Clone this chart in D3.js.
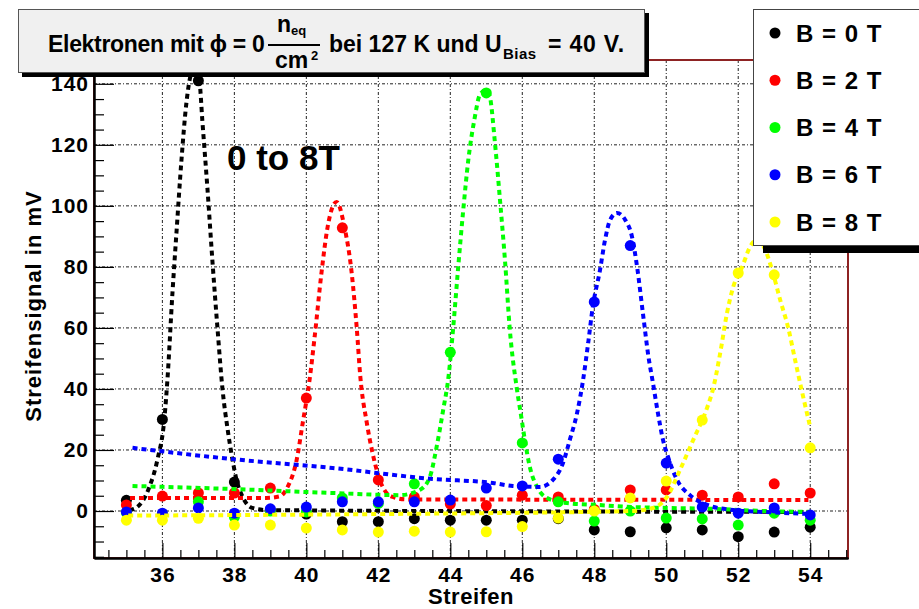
<!DOCTYPE html>
<html>
<head>
<meta charset="utf-8">
<script src="https://cdn.jsdelivr.net/npm/d3@7"></script>
<style>
  body { margin: 0; background: #fff; }
  svg { display: block; font-family: "Liberation Sans", Arial, sans-serif; font-weight: bold; }
</style>
</head>
<body>
<script>
// strip numbers and measured signals (mV) per magnetic field
const strips = [35, 36, 37, 38, 39, 40, 41, 42, 43, 44, 45, 46, 47, 48, 49, 50, 51, 52, 53, 54];
const signalB0 = [3.5, 30, 141, 9.5, 0.3, -1, -3.5, -3.5, -2.5, -3, -3, -3, -2.5, -6.2, -6.8, -5.5, -6.2, -8.4, -6.9, -5.3];
const signalB2 = [2, 4.9, 5.9, 5.9, 7.5, 37, 92.8, 10.2, 4.6, 2.3, 1.8, 5.2, 4.6, 0.5, 6.9, 6.9, 5.2, 4.6, 8.9, 5.9];
const signalB4 = [-0.5, -1, 3, -2, 0, -0.3, 4.3, 2.5, 8.9, 52, 137, 22.3, 3, -3.3, 0, -2.3, -2.6, -4.6, -0.7, -3];
const signalB6 = [-0.3, -0.7, 1, -0.7, 0.7, 1.3, 3, 3, 3, 3.6, 7.5, 8.2, 17, 68.5, 87, 15.7, 1.3, -0.7, 1, -1.3];
const signalB8 = [-3, -3, -2.4, -4.6, -4.6, -5.6, -6.2, -6.9, -6.6, -6.9, -6.8, -5.1, -2.3, 0, 4.3, 9.8, 29.8, 78, 77.4, 20.7];

// fitted curves: [strip, mV]
const fitB0 = [[35.08, 0.3], [35.3, 1.3], [35.64, 7.9], [35.86, 16.7], [36.06, 30.8], [36.14, 43], [36.28, 71.5],
  [36.39, 91], [36.53, 115], [36.67, 134], [36.81, 143.6], [36.92, 145], [37.03, 141], [37.11, 128], [37.25, 106],
  [37.39, 82], [37.53, 60], [37.67, 40], [37.81, 27], [37.95, 16.7], [38.06, 10.2], [38.23, 4.6], [38.5, 1],
  [38.89, 0.3], [46, -0.1], [54.05, -0.3]];
const fitB2 = [[35.1, 4.3], [38.89, 4.3], [39.26, 4.8], [39.48, 7.9], [39.73, 16.7], [39.9, 28.9], [40.09, 43],
  [40.23, 57], [40.42, 78], [40.59, 93], [40.73, 99.7], [40.84, 101.3], [41.06, 93], [41.26, 78], [41.4, 60],
  [41.5, 44], [41.68, 28.9], [41.84, 19], [42.12, 7.9], [42.4, 4.6], [42.79, 3.8], [48, 3.7], [53.95, 3.6]];
const fitB4 = [[35.17, 8.2], [37.95, 7.2], [40.73, 5.9], [42.59, 5.2], [43.15, 6.9], [43.43, 11.1], [43.62, 21],
  [43.8, 33], [43.95, 44], [44.08, 60], [44.22, 80], [44.36, 98.7], [44.5, 115], [44.68, 129], [44.82, 136.4],
  [45.0, 138], [45.1, 135.7], [45.24, 120.7], [45.38, 102], [45.52, 82], [45.65, 60], [45.85, 40], [45.97, 31],
  [46.07, 23.3], [46.21, 14.4], [46.41, 7.9], [46.68, 4.3], [47.24, 2.6], [48.08, 2], [49.08, 1.3], [50.02, 1],
  [51.3, 0.7], [52.69, 0], [54.05, -0.3]];
const fitB6 = [[35.17, 20.7], [37.95, 17], [40.73, 14.1], [43.51, 10.5], [45.18, 9.2], [45.74, 8.2], [46.49, 7.9],
  [46.85, 10.2], [47.13, 15.7], [47.32, 23.3], [47.52, 32], [47.69, 43], [47.83, 55], [47.96, 67], [48.16, 79],
  [48.3, 88.9], [48.44, 95.4], [48.63, 97.7], [48.86, 95.4], [49.05, 89.8], [49.19, 80], [49.36, 64], [49.5, 51],
  [49.63, 42], [49.77, 32], [49.91, 23.3], [50.05, 17.7], [50.3, 10.2], [50.66, 5.2], [51.14, 2], [51.86, 0.3],
  [52.69, -0.3], [54.05, -1]];
const fitB8 = [[35.05, -1.5], [42, -1], [49, 0], [49.63, 1], [50.02, 4.6], [50.38, 13.4], [50.75, 23.3],
  [51.14, 34], [51.3, 40], [51.5, 51.8], [51.69, 65], [51.86, 73.4], [52.11, 80], [52.33, 86.6], [52.52, 89],
  [52.75, 85.6], [52.94, 79], [53.17, 69], [53.39, 60], [53.58, 49.5], [53.78, 38.7], [54.0, 27.5]];

const legendLabels = ["B = 0 T", "B = 2 T", "B = 4 T", "B = 6 T", "B = 8 T"];
const colors = ["#000000", "#ff0000", "#00ff00", "#0000ff", "#ffff00"];
const xMajor = [36, 38, 40, 42, 44, 46, 48, 50, 52, 54];
const yMajor = [0, 20, 40, 60, 80, 100, 120, 140];

const series = [signalB0, signalB2, signalB4, signalB6, signalB8];
const fits = [fitB0, fitB2, fitB4, fitB6, fitB8];

const width = 919, height = 609;
const frameL = 94, frameR = 848, frameT = 60, frameB = 558;

const svg = d3.select("body").append("svg")
  .attr("width", width)
  .attr("height", height);

const x = d3.scaleLinear().domain([34.1, 55.05]).range([frameL, frameR]);
const y = d3.scaleLinear().domain([-15.4, 147.8]).range([frameB, frameT]);

svg.append("defs").append("clipPath").attr("id", "frame")
  .append("rect")
  .attr("x", frameL).attr("y", frameT)
  .attr("width", frameR - frameL).attr("height", frameB - frameT);

// grid
const grid = svg.append("g").attr("stroke", "#222").attr("stroke-width", 1)
  .attr("stroke-dasharray", "3,2,1,2");
grid.selectAll(".gx").data(xMajor).enter().append("line")
  .attr("x1", d => x(d)).attr("x2", d => x(d))
  .attr("y1", frameT).attr("y2", frameB);
grid.selectAll(".gy").data(yMajor).enter().append("line")
  .attr("x1", frameL).attr("x2", frameR)
  .attr("y1", d => y(d)).attr("y2", d => y(d));

// curves and points
const plot = svg.append("g").attr("clip-path", "url(#frame)");
const line = d3.line()
  .x(d => x(d[0]))
  .y(d => y(d[1]))
  .curve(d3.curveMonotoneX);

series.forEach((vals, i) => {
  plot.append("path")
    .datum(fits[i])
    .attr("d", line)
    .attr("fill", "none")
    .attr("stroke", colors[i])
    .attr("stroke-width", 4)
    .attr("stroke-dasharray", "5,4");

  plot.selectAll(".pt" + i)
    .data(vals)
    .enter()
    .append("circle")
    .attr("class", "pt" + i)
    .attr("cx", (d, j) => x(strips[j]))
    .attr("cy", d => y(d))
    .attr("r", 5.5)
    .attr("fill", colors[i]);
});

// frame
svg.append("rect")
  .attr("x", frameL).attr("y", frameT)
  .attr("width", frameR - frameL).attr("height", frameB - frameT)
  .attr("fill", "none")
  .attr("stroke", "#8e2323")
  .attr("stroke-width", 2);

// axes
svg.append("g").attr("transform", `translate(${frameL},0)`)
  .call(d3.axisLeft(y).tickValues(yMajor).tickSizeInner(-20).tickSizeOuter(0).tickPadding(5));
svg.append("g").attr("transform", `translate(${frameL},0)`)
  .call(d3.axisLeft(y).tickValues(d3.range(-15, 146, 5).filter(v => v % 20 !== 0))
    .tickSizeInner(-10).tickSizeOuter(0).tickFormat(""));

svg.append("g").attr("transform", `translate(0,${frameB})`)
  .call(d3.axisBottom(x).tickValues(xMajor).tickSizeInner(-15).tickSizeOuter(0).tickPadding(9));
svg.append("g").attr("transform", `translate(0,${frameB})`)
  .call(d3.axisBottom(x).tickValues(d3.range(34.5, 55.01, 0.5).filter(v => v % 2 !== 0))
    .tickSizeInner(-8).tickSizeOuter(0).tickFormat(""));

svg.selectAll(".domain").attr("stroke", "#000").attr("stroke-width", 2);
svg.selectAll(".tick line").attr("stroke", "#000").attr("stroke-width", 1.2);
svg.selectAll(".tick text")
  .attr("font-family", "Liberation Sans, Arial, sans-serif")
  .attr("font-weight", "bold")
  .attr("font-size", 21)
  .attr("letter-spacing", 1)
  .attr("fill", "#000");

// axis titles
svg.append("text")
  .attr("x", 514).attr("y", 604)
  .attr("text-anchor", "end")
  .attr("font-size", 22)
  .attr("letter-spacing", 0.5)
  .text("Streifen");

svg.append("text")
  .attr("transform", "translate(41,306) rotate(-90)")
  .attr("text-anchor", "middle")
  .attr("font-size", 22)
  .attr("letter-spacing", 1)
  .text("Streifensignal in mV");

// annotation
svg.append("text")
  .attr("x", 227).attr("y", 170)
  .attr("font-size", 35)
  .text("0 to 8T");

// title box
svg.append("rect")
  .attr("x", 22).attr("y", 13).attr("width", 627).attr("height", 64)
  .attr("fill", "#000");
svg.append("rect")
  .attr("x", 18.5).attr("y", 9.5).attr("width", 626).attr("height", 63)
  .attr("fill", "#f0f0f0")
  .attr("stroke", "#555")
  .attr("stroke-width", 1);

const title = svg.append("g").attr("font-size", 23).attr("fill", "#000");
title.append("text").attr("x", 48).attr("y", 52).attr("letter-spacing", -0.3).text("Elektronen mit \u03d5 = 0");
title.append("text").attr("x", 277).attr("y", 32).text("n");
title.append("text").attr("x", 291).attr("y", 35).attr("font-size", 13).text("eq");
title.append("line")
  .attr("x1", 268).attr("x2", 320).attr("y1", 45).attr("y2", 45)
  .attr("stroke", "#000").attr("stroke-width", 2);
title.append("text").attr("x", 275).attr("y", 68).text("cm");
title.append("text").attr("x", 311).attr("y", 60).attr("font-size", 13).text("2");
title.append("text").attr("x", 329).attr("y", 52).text("bei 127 K und U");
title.append("text").attr("x", 503).attr("y", 59).attr("font-size", 15).attr("letter-spacing", 0.5).text("Bias");
title.append("text").attr("x", 548).attr("y", 52).attr("letter-spacing", 0.8).text("= 40 V.");

// legend
svg.append("rect")
  .attr("x", 763).attr("y", 245).attr("width", 170).attr("height", 8)
  .attr("fill", "#000");
svg.append("rect")
  .attr("x", 753.5).attr("y", 9.5).attr("width", 200).attr("height", 236)
  .attr("fill", "#fff")
  .attr("stroke", "#444")
  .attr("stroke-width", 1);

const legendY = d3.scalePoint().domain(legendLabels).range([33, 222]);
const legend = svg.append("g");
legend.selectAll("circle")
  .data(legendLabels)
  .enter()
  .append("circle")
  .attr("cx", 775)
  .attr("cy", d => legendY(d))
  .attr("r", 5.5)
  .attr("fill", (d, i) => colors[i]);
legend.selectAll("text")
  .data(legendLabels)
  .enter()
  .append("text")
  .attr("x", 796)
  .attr("y", d => legendY(d) + 8.5)
  .attr("font-size", 24)
  .attr("letter-spacing", 1)
  .text(d => d);
</script>
</body>
</html>
